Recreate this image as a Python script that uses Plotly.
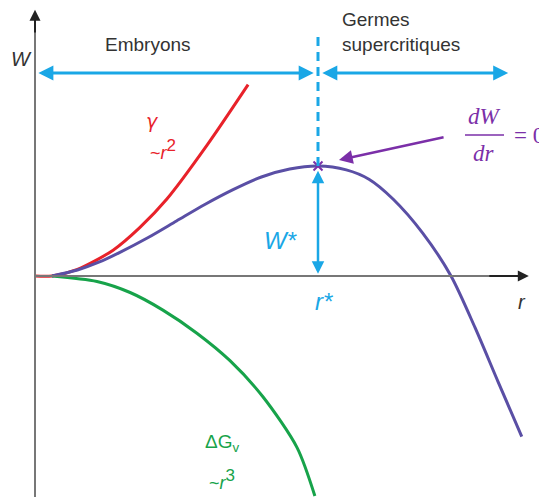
import plotly.graph_objects as go

# courbes (r en unites de r*, W en unites de W*)
r_gamma = [0, 0.06, 0.15, 0.276, 0.37, 0.466, 0.608, 0.753]
w_gamma = [0, 0, 0.06, 0.235, 0.44, 0.70, 1.19, 1.74]

r_dg = [0.06, 0.219, 0.336, 0.452, 0.572, 0.689, 0.806, 0.926, 0.989]
w_dg = [0, -0.05, -0.15, -0.31, -0.52, -0.77, -1.10, -1.56, -2.0]

r_w = [0.06, 0.15, 0.23, 0.30, 0.40, 0.50, 0.60, 0.70, 0.80, 0.90, 1.0,
       1.10, 1.18, 1.265, 1.37, 1.47, 1.555, 1.636, 1.72]
w_w = [0, 0.055, 0.13, 0.215, 0.35, 0.50, 0.65, 0.785, 0.90, 0.972, 1.0,
       0.965, 0.88, 0.70, 0.39, 0, -0.47, -0.96, -1.46]

r_star = 1.0
w_star = 1.0

W, H = 547, 497
OFF = 8  # marge du <body> dans la page
X0, Y0, SX, SY = 35, 276, 283, 110  # origine et echelle en pixels

RED = "#E8222A"
GREEN = "#17A34A"
PURPLE = "#5A4FA5"
VIOLET = "#7B2FA8"
BLUE = "#1AA7E6"
GREY = "#333333"


def px(x):
    return (x - OFF) / (W - OFF)


def py(y):
    return 1 - (y - OFF) / (H - OFF)


fig = go.Figure()
fig.add_trace(go.Scatter(x=r_gamma, y=w_gamma, mode="lines",
                         line=dict(color=RED, width=3, shape="spline", smoothing=0.8)))
fig.add_trace(go.Scatter(x=r_dg, y=w_dg, mode="lines",
                         line=dict(color=GREEN, width=3, shape="spline", smoothing=0.8)))
fig.add_trace(go.Scatter(x=r_w, y=w_w, mode="lines",
                         line=dict(color=PURPLE, width=3, shape="spline", smoothing=0.8)))

# ligne pointillee r*
fig.add_shape(type="line", x0=r_star, x1=r_star, y0=w_star, y1=2.22,
              line=dict(color=BLUE, width=3, dash="9px,6px"))
fig.add_trace(go.Scatter(x=[r_star], y=[w_star], mode="markers",
                         marker=dict(symbol="x-thin", size=9, line=dict(color=VIOLET, width=2))))

ann = []
# axes
fig.add_shape(type="line", x0=0, x1=0, y0=-2.2, y1=2.3, line=dict(color="#777", width=2))
ann.append(dict(x=0, y=2.42, ax=0, ay=2.2, xref="x", yref="y", axref="x", ayref="y",
                showarrow=True, arrowhead=2, arrowsize=1.1, arrowwidth=2, arrowcolor="#222", text=""))
fig.add_shape(type="line", x0=0, x1=1.7, y0=0, y1=0, line=dict(color="#777", width=2))
ann.append(dict(x=1.745, y=0, ax=1.6, ay=0, xref="x", yref="y", axref="x", ayref="y",
                showarrow=True, arrowhead=2, arrowsize=1.1, arrowwidth=2, arrowcolor="#222", text=""))
# fleches bleues
ya = (Y0 - 73) / SY
ann.append(dict(x=0.012, y=ya, ax=r_star - 0.01, ay=ya, xref="x", yref="y", axref="x", ayref="y",
                showarrow=True, arrowhead=2, startarrowhead=2, arrowside="end+start",
                arrowsize=1, arrowwidth=3, arrowcolor=BLUE, text=""))
ann.append(dict(x=1.672, y=ya, ax=r_star + 0.01, ay=ya, xref="x", yref="y", axref="x", ayref="y",
                showarrow=True, arrowhead=2, startarrowhead=2, arrowside="end+start",
                arrowsize=1, arrowwidth=3, arrowcolor=BLUE, text=""))
ann.append(dict(x=r_star, y=0.02, ax=r_star, ay=w_star - 0.03, xref="x", yref="y", axref="x", ayref="y",
                showarrow=True, arrowhead=2, startarrowhead=2, arrowside="end+start",
                arrowsize=1, arrowwidth=2.5, arrowcolor=BLUE, text=""))
# fleche dW/dr
ann.append(dict(x=1.074, y=1.055, ax=1.449, ay=1.264, xref="x", yref="y", axref="x", ayref="y",
                showarrow=True, arrowhead=2, arrowsize=1.1, arrowwidth=2.5, arrowcolor=VIOLET, text=""))


def txt(x, y, s, size=16, color=GREY, family="Liberation Sans", xanchor="center"):
    ann.append(dict(x=px(x), y=py(y), xref="paper", yref="paper", text=s, showarrow=False,
                    xanchor=xanchor, yanchor="middle", font=dict(size=size, color=color, family=family)))


txt(148, 45, "Embryons", 19)
txt(340, 19, "Germes", 19, xanchor="left")
txt(340, 44, "supercritiques", 19, xanchor="left")
txt(21, 59, "<i>W</i>", 20)
txt(522, 302, "<i>r</i>", 20)
txt(152, 121, "<i>γ</i>", 19, RED, "DejaVu Sans")
txt(163, 150, "~<i>r</i><sup><span style='font-size:17px'>2</span></sup>", 18, RED)
txt(281, 240, "<i>W*</i>", 24, BLUE)
txt(324, 301, "<i>r*</i>", 24, BLUE)
txt(222, 443, "ΔG<sub>v</sub>", 19, GREEN)
txt(222, 479, "~<i>r</i><sup><span style='font-size:17px'>3</span></sup>", 18, GREEN)
txt(484, 116, "<i>dW</i>", 23, VIOLET, "Liberation Serif")
txt(484, 153, "<i>dr</i>", 23, VIOLET, "Liberation Serif")
txt(512, 136, "= 0", 23, VIOLET, "Liberation Serif", xanchor="left")

fig.add_shape(type="line", xref="paper", yref="paper", x0=px(465), x1=px(504), y0=py(135), y1=py(135),
              line=dict(color=VIOLET, width=1.5))

fig.update_layout(
    width=W - OFF, height=H - OFF, margin=dict(l=0, r=0, t=0, b=0),
    plot_bgcolor="white", paper_bgcolor="white", showlegend=False,
    xaxis=dict(range=[-(X0 - OFF) / SX, (W - X0) / SX], visible=False, fixedrange=True),
    yaxis=dict(range=[(Y0 - H) / SY, (Y0 - OFF) / SY], visible=False, fixedrange=True),
    annotations=ann,
)

fig.write_html("out.html")
